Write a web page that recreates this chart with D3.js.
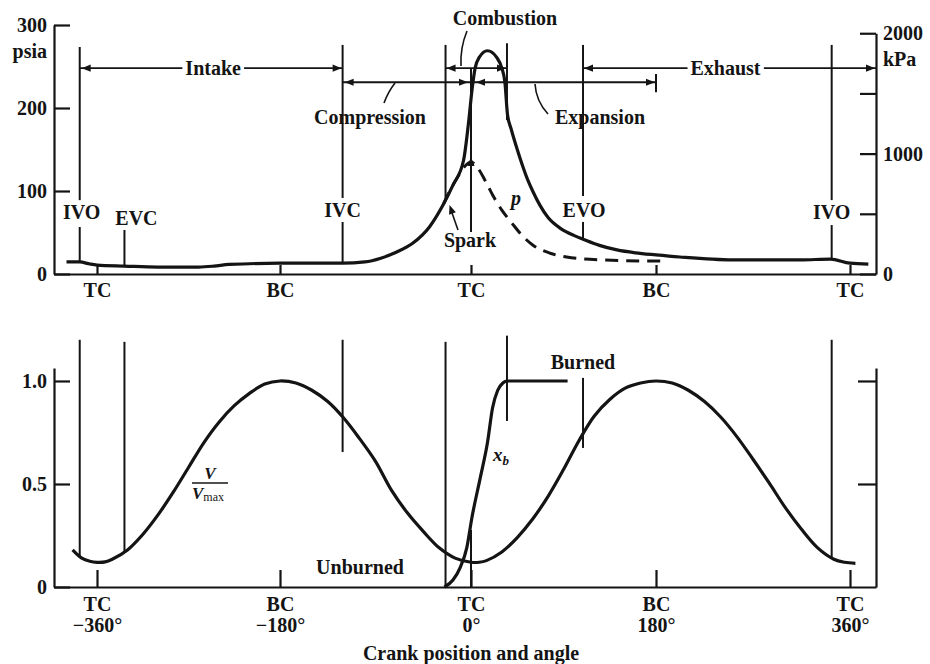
<!DOCTYPE html>
<html><head><meta charset="utf-8">
<script src="https://cdn.jsdelivr.net/npm/d3@7"></script>
<style>
body{margin:0;background:#fff}
svg text{font-family:"Liberation Serif","Times New Roman",serif;font-weight:bold;font-size:20px;fill:#141414}
</style></head><body>
<svg id="c" width="930" height="664"></svg>
<script>
// ---------------- data ----------------
const crankTicks = [-360, -180, 0, 180, 360];
const crankPosLabels = ["TC", "BC", "TC", "BC", "TC"];
const crankAngleLabels = ["\u2212360\u00b0", "\u2212180\u00b0", "0\u00b0", "180\u00b0", "360\u00b0"];
const psiaTicks = [0, 100, 200, 300];
const kPaTicks = [0, 500, 1000, 1500, 2000];
const kPaLabels = ["0", "", "1000", "", "2000"];
const ratioTicks = [0, 0.5, 1.0];
const ratioLabels = ["0", "0.5", "1.0"];

// cylinder pressure, firing (crank angle deg, psia)
const firingAngle = [-390, -377, -367, -360, -333, -300, -260, -245, -230, -180, -140, -121, -100, -85, -70, -55, -39, -26, -17, -7, -2, 1, 4, 8, 16, 25, 30, 33, 35.5, 39, 45, 50, 55, 60, 67, 75, 87, 100, 109, 125, 142, 160, 180, 202, 251, 314, 342, 360, 377];
const firingPsia  = [14.5, 14.5, 12, 10.8, 9.6, 8.4, 8.4, 9.5, 11.5, 13, 13, 13, 14.5, 19, 26.5, 37, 57, 84, 107, 137, 186, 222, 248, 261, 269, 261, 248, 231, 192, 175, 150, 131, 114, 100, 83, 68, 55, 46.5, 42, 34.5, 29, 25.5, 23, 20.5, 17, 17, 18, 13, 12];

// cylinder pressure, no combustion (dashed)
const motoredAngle = [-26, -20, -13, -7, 0, 7, 14, 22, 30, 40, 50, 60, 77, 93, 125, 174, 189];
const motoredPsia  = [84, 100, 116, 128, 135, 127, 112, 93, 77, 61, 46, 35, 25, 20.5, 17, 15.7, 15.7];

// V / Vmax
const volumeAngle = [-384, -375, -367, -360, -352, -345, -330, -315, -300, -285, -270, -255, -240, -225, -210, -195, -180, -165, -150, -135, -120, -105, -90, -75, -60, -45, -30, -15, 0, 8, 15, 30, 45, 60, 75, 90, 105, 120, 135, 150, 165, 180, 195, 210, 225, 240, 255, 270, 285, 300, 315, 330, 345, 355, 365];
const volumeRatio = [0.18, 0.14, 0.125, 0.12, 0.122, 0.135, 0.18, 0.255, 0.35, 0.46, 0.58, 0.70, 0.80, 0.88, 0.94, 0.985, 1.0, 0.99, 0.955, 0.90, 0.82, 0.72, 0.61, 0.47, 0.36, 0.27, 0.19, 0.14, 0.12, 0.12, 0.128, 0.17, 0.24, 0.33, 0.44, 0.57, 0.71, 0.83, 0.91, 0.965, 0.99, 1.0, 0.99, 0.955, 0.90, 0.825, 0.73, 0.62, 0.505, 0.385, 0.28, 0.19, 0.135, 0.12, 0.115];

// mass fraction burned x_b
const burnAngle = [-25, -17, -10, -4, 1, 9, 16, 21, 26, 31, 35, 94];
const burnFraction = [0, 0.034, 0.097, 0.19, 0.34, 0.53, 0.70, 0.87, 0.955, 0.99, 1.0, 1.0];

// events (crank angle deg)
const eventNames  = ["IVO", "EVC", "IVC", "CombStart", "TC", "CombEnd", "EVO", "ExpEnd", "IVO2"];
const eventAngles = [-377, -333, -121, -24, 0, 35, 109, 180, 343];
const ev = Object.fromEntries(eventNames.map((n, i) => [n, eventAngles[i]]));

// ---------------- setup ----------------
const ink = "#141414";
const svg = d3.select("#c");
svg.append("rect").attr("width", 930).attr("height", 664).attr("fill", "#fff");

const x = d3.scaleLinear()
  .domain([-402.3, -360, -180, 0, 180, 360, 384.1])
  .range([54, 97, 280, 471, 656, 850, 876]);
const yP = d3.scaleLinear().domain([0, 300]).range([274, 25]);
const yK = d3.scaleLinear().domain([0, 2000]).range([yP(0), yP(2000 / 6.894757)]);
const yV = d3.scaleLinear().domain([0, 1.063]).range([587, 368]);

function interp(xs, ys, a) {
  const i = Math.max(1, Math.min(xs.length - 1, d3.bisectLeft(xs, a)));
  const t = (a - xs[i - 1]) / (xs[i] - xs[i - 1]);
  return ys[i - 1] + t * (ys[i] - ys[i - 1]);
}
function styleAxis(g, w) {
  g.attr("font-size", null).attr("font-family", null).attr("color", ink);
  g.select(".domain").attr("stroke-width", w);
  g.selectAll(".tick line").attr("stroke-width", w);
}
function vline(g, xx, y1, y2, w) {
  g.append("line").attr("x1", xx).attr("x2", xx).attr("y1", y1).attr("y2", y2)
    .attr("stroke", ink).attr("stroke-width", w || 2);
}
function hline(g, x1, x2, yy, w) {
  g.append("line").attr("x1", x1).attr("x2", x2).attr("y1", yy).attr("y2", yy)
    .attr("stroke", ink).attr("stroke-width", w || 1.8);
}
function arrow(g, tx, ty, dx, dy) {
  const L = 9, W = 3.6, bx = tx - dx * L, by = ty - dy * L, px = -dy, py = dx;
  g.append("path").attr("d", `M${tx},${ty}L${bx + px * W},${by + py * W}L${bx - px * W},${by - py * W}Z`).attr("fill", ink);
}
function label(g, txt, xx, yy, anchor, bg) {
  const t = g.append("text").attr("x", xx).attr("y", yy).attr("text-anchor", anchor || "middle").text(txt);
  if (bg) {
    const b = t.node().getBBox();
    g.insert("rect", () => t.node()).attr("x", b.x - 3).attr("y", b.y).attr("width", b.width + 6)
      .attr("height", b.height).attr("fill", "#fff");
  }
  return t;
}

// ---------------- top panel ----------------
const topG = svg.append("g");
const gL = topG.append("g").attr("transform", "translate(54,0)")
  .call(d3.axisLeft(yP).tickValues(psiaTicks).tickSize(-16).tickSizeOuter(0).tickPadding(7).tickFormat(d3.format("d")));
styleAxis(gL, 2.2);
const gR = topG.append("g").attr("transform", "translate(876,0)")
  .call(d3.axisRight(yK).tickValues(kPaTicks).tickSize(-16).tickSizeOuter(0).tickPadding(7).tickFormat((d, i) => kPaLabels[i]));
styleAxis(gR, 2.2);
const gB = topG.append("g").attr("transform", `translate(0,${yP(0)})`)
  .call(d3.axisBottom(x).tickValues(crankTicks).tickSize(-9).tickSizeOuter(0).tickPadding(9).tickFormat((d, i) => crankPosLabels[i]));
styleAxis(gB, 2.2);
label(topG, "psia", 47, 58, "end");
label(topG, "kPa", 883, 66, "start");

// curves
const lineP = d3.line().x(d => x(d[0])).y(d => yP(d[1])).curve(d3.curveMonotoneX);
topG.append("path").datum(motoredAngle.map((a, i) => [a, motoredPsia[i]]))
  .attr("d", lineP).attr("fill", "none").attr("stroke", ink).attr("stroke-width", 3)
  .attr("stroke-dasharray", "13,8");
topG.append("path").datum(firingAngle.map((a, i) => [a, firingPsia[i]]))
  .attr("d", lineP).attr("fill", "none").attr("stroke", ink).attr("stroke-width", 3.2)
  .attr("stroke-linejoin", "round");

const pAt = a => yP(interp(firingAngle, firingPsia, a));
// event lines
vline(topG, x(ev.IVO), yP(273.5), yP(89));
vline(topG, x(ev.IVO), yP(56.6), pAt(ev.IVO));
vline(topG, x(ev.EVC), yP(53), pAt(ev.EVC));
vline(topG, x(ev.IVC), yP(276), yP(91.6));
vline(topG, x(ev.IVC), yP(62.7), pAt(ev.IVC));
vline(topG, x(ev.CombStart), yP(276), pAt(ev.CombStart));
vline(topG, x(ev.TC), yP(248), yP(50.6));
vline(topG, x(ev.CombEnd), yP(278), yP(185.5));
vline(topG, x(ev.EVO), yP(276), yP(94));
vline(topG, x(ev.EVO), yP(62.7), pAt(ev.EVO));
vline(topG, x(ev.ExpEnd), yP(241), yP(219));
vline(topG, x(ev.IVO2), yP(276), yP(89));
vline(topG, x(ev.IVO2), yP(59), pAt(ev.IVO2));

// process bars
const yIn = yP(248), yCo = yP(231);
hline(topG, x(ev.IVO), x(ev.IVC), yIn);
arrow(topG, x(ev.IVO) + 2, yIn, -1, 0);
arrow(topG, x(ev.IVC) - 1, yIn, 1, 0);
label(topG, "Intake", (x(ev.IVO) + x(ev.IVC)) / 2 + 2, yIn + 7, "middle", true);

hline(topG, x(ev.IVC), x(ev.ExpEnd), yCo);
arrow(topG, x(ev.IVC) + 2, yCo, -1, 0);
arrow(topG, x(ev.TC) - 3, yCo, 1, 0);
arrow(topG, x(ev.TC) + 5, yCo, -1, 0);
arrow(topG, x(ev.ExpEnd) - 1, yCo, 1, 0);

hline(topG, x(ev.CombStart), x(ev.CombEnd), yIn);
arrow(topG, x(ev.CombStart) + 1, yIn, -1, 0);
arrow(topG, x(ev.CombEnd) - 1, yIn, 1, 0);

hline(topG, x(ev.EVO), 876, yIn);
arrow(topG, x(ev.EVO) + 1, yIn, -1, 0);
arrow(topG, 875, yIn, 1, 0);
label(topG, "Exhaust", (x(ev.EVO) + 876) / 2 - 4, yIn + 7, "middle", true);

// labels
label(topG, "Combustion", 505, 25);
label(topG, "Compression", 370, 124);
label(topG, "Expansion", 600, 124);
label(topG, "IVO", x(ev.IVO) + 2, 219);
label(topG, "EVC", x(ev.EVC) + 12, 225);
label(topG, "IVC", x(ev.IVC), 217);
label(topG, "EVO", x(ev.EVO) + 1, 217);
label(topG, "IVO", x(ev.IVO2), 219);
label(topG, "Spark", x(ev.TC) - 1, 247);
topG.append("text").attr("x", 516).attr("y", 205).attr("text-anchor", "middle")
  .style("font-style", "italic").text("p");

// leaders
const lead = d => topG.append("path").attr("d", d).attr("fill", "none").attr("stroke", ink).attr("stroke-width", 1.6);
lead("M467,31 Q460,48 461,66");
lead("M384,103 Q388,92 395,83");
lead("M548,114 Q536,101 535,84");
lead("M458,230 L451,210");
arrow(topG, 449.5, 205, -0.33, -0.94);
arrow(topG, x(ev.TC), 157, 0, -1);

// ---------------- bottom panel ----------------
const botG = svg.append("g");
const bL = botG.append("g").attr("transform", "translate(54,0)")
  .call(d3.axisLeft(yV).tickValues(ratioTicks).tickSize(-16).tickSizeOuter(0).tickPadding(7).tickFormat((d, i) => ratioLabels[i]));
styleAxis(bL, 2.2);
const bR = botG.append("g").attr("transform", "translate(876,0)")
  .call(d3.axisRight(yV).tickValues([0.5, 1.0]).tickSize(-18).tickSizeOuter(0).tickFormat(""));
styleAxis(bR, 2.2);
const bB = botG.append("g").attr("transform", `translate(0,${yV(0)})`)
  .call(d3.axisBottom(x).tickValues(crankTicks).tickSize(-17).tickSizeOuter(0).tickPadding(10).tickFormat((d, i) => crankPosLabels[i]));
styleAxis(bB, 2.2);
bB.selectAll(".tick").append("text").attr("y", 45).attr("fill", ink).attr("text-anchor", "middle")
  .text((d, i) => crankAngleLabels[i]);
label(botG, "Crank position and angle", x(0), 660);

const lineV = d3.line().x(d => x(d[0])).y(d => yV(d[1])).curve(d3.curveCatmullRom.alpha(0.5));
const lineB = d3.line().x(d => x(d[0])).y(d => yV(d[1])).curve(d3.curveMonotoneX);
botG.append("path").datum(volumeAngle.map((a, i) => [a, volumeRatio[i]]))
  .attr("d", lineV).attr("fill", "none").attr("stroke", ink).attr("stroke-width", 3.2);
botG.append("path").datum(burnAngle.map((a, i) => [a, burnFraction[i]]))
  .attr("d", lineB).attr("fill", "none").attr("stroke", ink).attr("stroke-width", 3.2);

const vAt = a => yV(interp(volumeAngle, volumeRatio, a));
vline(botG, x(ev.IVO), yV(1.2), vAt(ev.IVO));
vline(botG, x(ev.EVC), yV(1.19), vAt(ev.EVC));
vline(botG, x(ev.IVC), yV(1.2), yV(0.655));
vline(botG, x(ev.CombStart), yV(1.19), yV(0));
vline(botG, x(ev.TC), yV(0.277), yV(0));
vline(botG, x(ev.CombEnd), yV(1.22), yV(0.806));
vline(botG, x(ev.EVO), yV(1.015), yV(0.675));
vline(botG, x(ev.IVO2), yV(1.2), vAt(ev.IVO2));

label(botG, "Burned", 583, 369);
label(botG, "Unburned", 360, 574);
// V / Vmax
botG.append("text").attr("x", 210).attr("y", 479).attr("text-anchor", "middle")
  .style("font-style", "italic").style("font-size", "17px").text("V");
hline(botG, 192, 228, 483, 1.6);
const vm = botG.append("text").attr("x", 192).attr("y", 499).style("font-size", "17px");
vm.append("tspan").style("font-style", "italic").text("V");
vm.append("tspan").style("font-size", "12px").style("font-weight", "normal").attr("dy", 2).text("max");
// x_b
const xb = botG.append("text").attr("x", 493).attr("y", 461);
xb.append("tspan").style("font-style", "italic").style("font-size", "19px").text("x");
xb.append("tspan").style("font-style", "italic").style("font-size", "13px").attr("dy", 4).text("b");
</script></body></html>
